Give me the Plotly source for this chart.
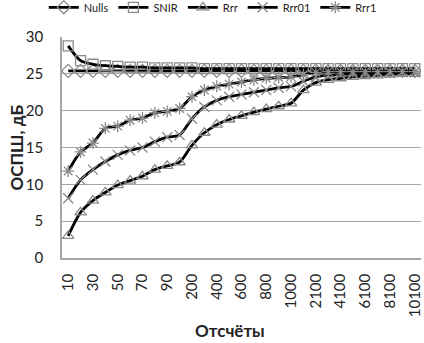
import plotly.graph_objects as go

categories = ["10", "20", "30", "40", "50", "60", "70", "80", "90", "100",
              "200", "300", "400", "500", "600", "700", "800", "900", "1000",
              "1100", "2100", "3100", "4100", "5100", "6100", "7100", "8100", "9100", "10100"]
tick_labels = ["10", "30", "50", "70", "90", "200", "400", "600", "800", "1000",
               "2100", "4100", "6100", "8100", "10100"]

nulls = [25.4, 25.4, 25.4, 25.4, 25.4, 25.4, 25.4, 25.4, 25.4, 25.4,
         25.4, 25.4, 25.4, 25.4, 25.4, 25.4, 25.4, 25.4, 25.4,
         25.4, 25.4, 25.4, 25.4, 25.4, 25.4, 25.4, 25.4, 25.4, 25.4]
snir = [28.8, 26.8, 26.3, 26.1, 26.0, 25.9, 25.9, 25.8, 25.8, 25.8,
        25.8, 25.7, 25.7, 25.7, 25.7, 25.7, 25.7, 25.7, 25.7,
        25.7, 25.7, 25.7, 25.7, 25.7, 25.7, 25.7, 25.7, 25.7, 25.7]
rrr = [3.0, 6.2, 7.8, 8.9, 9.9, 10.5, 11.1, 12.0, 12.5, 13.0,
       15.3, 17.0, 18.1, 18.8, 19.3, 19.8, 20.2, 20.6, 21.0,
       22.8, 23.8, 24.2, 24.4, 24.6, 24.7, 24.8, 24.9, 25.0, 25.0]
rrr01 = [8.1, 10.6, 12.0, 13.1, 14.0, 14.6, 15.0, 15.8, 16.4, 16.7,
         18.9, 20.5, 21.4, 21.9, 22.2, 22.5, 22.8, 23.1, 23.3,
         24.0, 24.6, 24.8, 24.9, 25.0, 25.0, 25.1, 25.1, 25.2, 25.2]
rrr1 = [11.8, 14.4, 15.6, 17.6, 17.9, 18.7, 19.0, 19.7, 19.9, 20.3,
        21.9, 22.8, 23.3, 23.6, 23.9, 24.2, 24.4, 24.5, 24.6,
        24.9, 25.2, 25.3, 25.3, 25.3, 25.3, 25.3, 25.3, 25.3, 25.3]

series = [
    ("Nulls", nulls, "diamond-open"),
    ("SNIR", snir, "square-open"),
    ("Rrr", rrr, "triangle-up-open"),
    ("Rrr01", rrr01, "x-thin-open"),
    ("Rrr1", rrr1, "asterisk-open"),
]

FONT = "Lato"
fig = go.Figure()
for name, vals, sym in series:
    fig.add_trace(go.Scatter(
        x=categories, y=vals, name=name, mode="lines+markers",
        line=dict(color="black", width=2.8, shape="spline", smoothing=0.8),
        marker=dict(symbol=sym, size=10, color="#8a8a8a",
                    line=dict(width=1.3, color="#8a8a8a")),
    ))

fig.update_layout(
    width=424, height=343,
    margin=dict(l=62, r=3, t=37, b=85, autoexpand=False),
    paper_bgcolor="white", plot_bgcolor="white",
    font=dict(family=FONT, color="#222222"),
    legend=dict(orientation="h", x=0.42, xanchor="center",
                yref="paper", y=1.2, yanchor="top",
                font=dict(size=11, family=FONT), itemwidth=30,
                bgcolor="rgba(0,0,0,0)", tracegroupgap=0),
    showlegend=True,
    annotations=[
        dict(text="<b>Отсчёты</b>", xref="paper", yref="paper",
             x=0.467, y=-0.33, xanchor="center", yanchor="middle",
             showarrow=False, font=dict(size=17, family=FONT, color="#222222")),
        dict(text="<b>ОСПШ, дБ</b>", xref="paper", yref="paper",
             x=-0.128, y=0.5, xanchor="center", yanchor="middle", textangle=-90,
             showarrow=False, font=dict(size=17, family=FONT, color="#222222")),
    ],
)
fig.update_xaxes(
    type="category", categoryorder="array", categoryarray=categories,
    tickmode="array", tickvals=tick_labels, ticktext=tick_labels,
    tickangle=-90, tickfont=dict(size=15, family=FONT),
    showgrid=False, showline=True, linecolor="#a6a6a6", linewidth=1.5,
    ticks="", ticklabelstandoff=8, automargin=False,
    range=[-0.5, 28.5],
)
fig.update_yaxes(
    range=[0, 30], tickvals=[0, 5, 10, 15, 20, 25, 30],
    tickfont=dict(size=15, family=FONT),
    showgrid=True, gridcolor="#a6a6a6", gridwidth=1,
    showline=True, linecolor="#a6a6a6", linewidth=1.5,
    zeroline=False, ticks="", ticklabelstandoff=14, automargin=False,
)

fig.write_html("out.html", config={"displayModeBar": False},
               post_script="document.body.style.margin='0';document.body.style.padding='0';")
